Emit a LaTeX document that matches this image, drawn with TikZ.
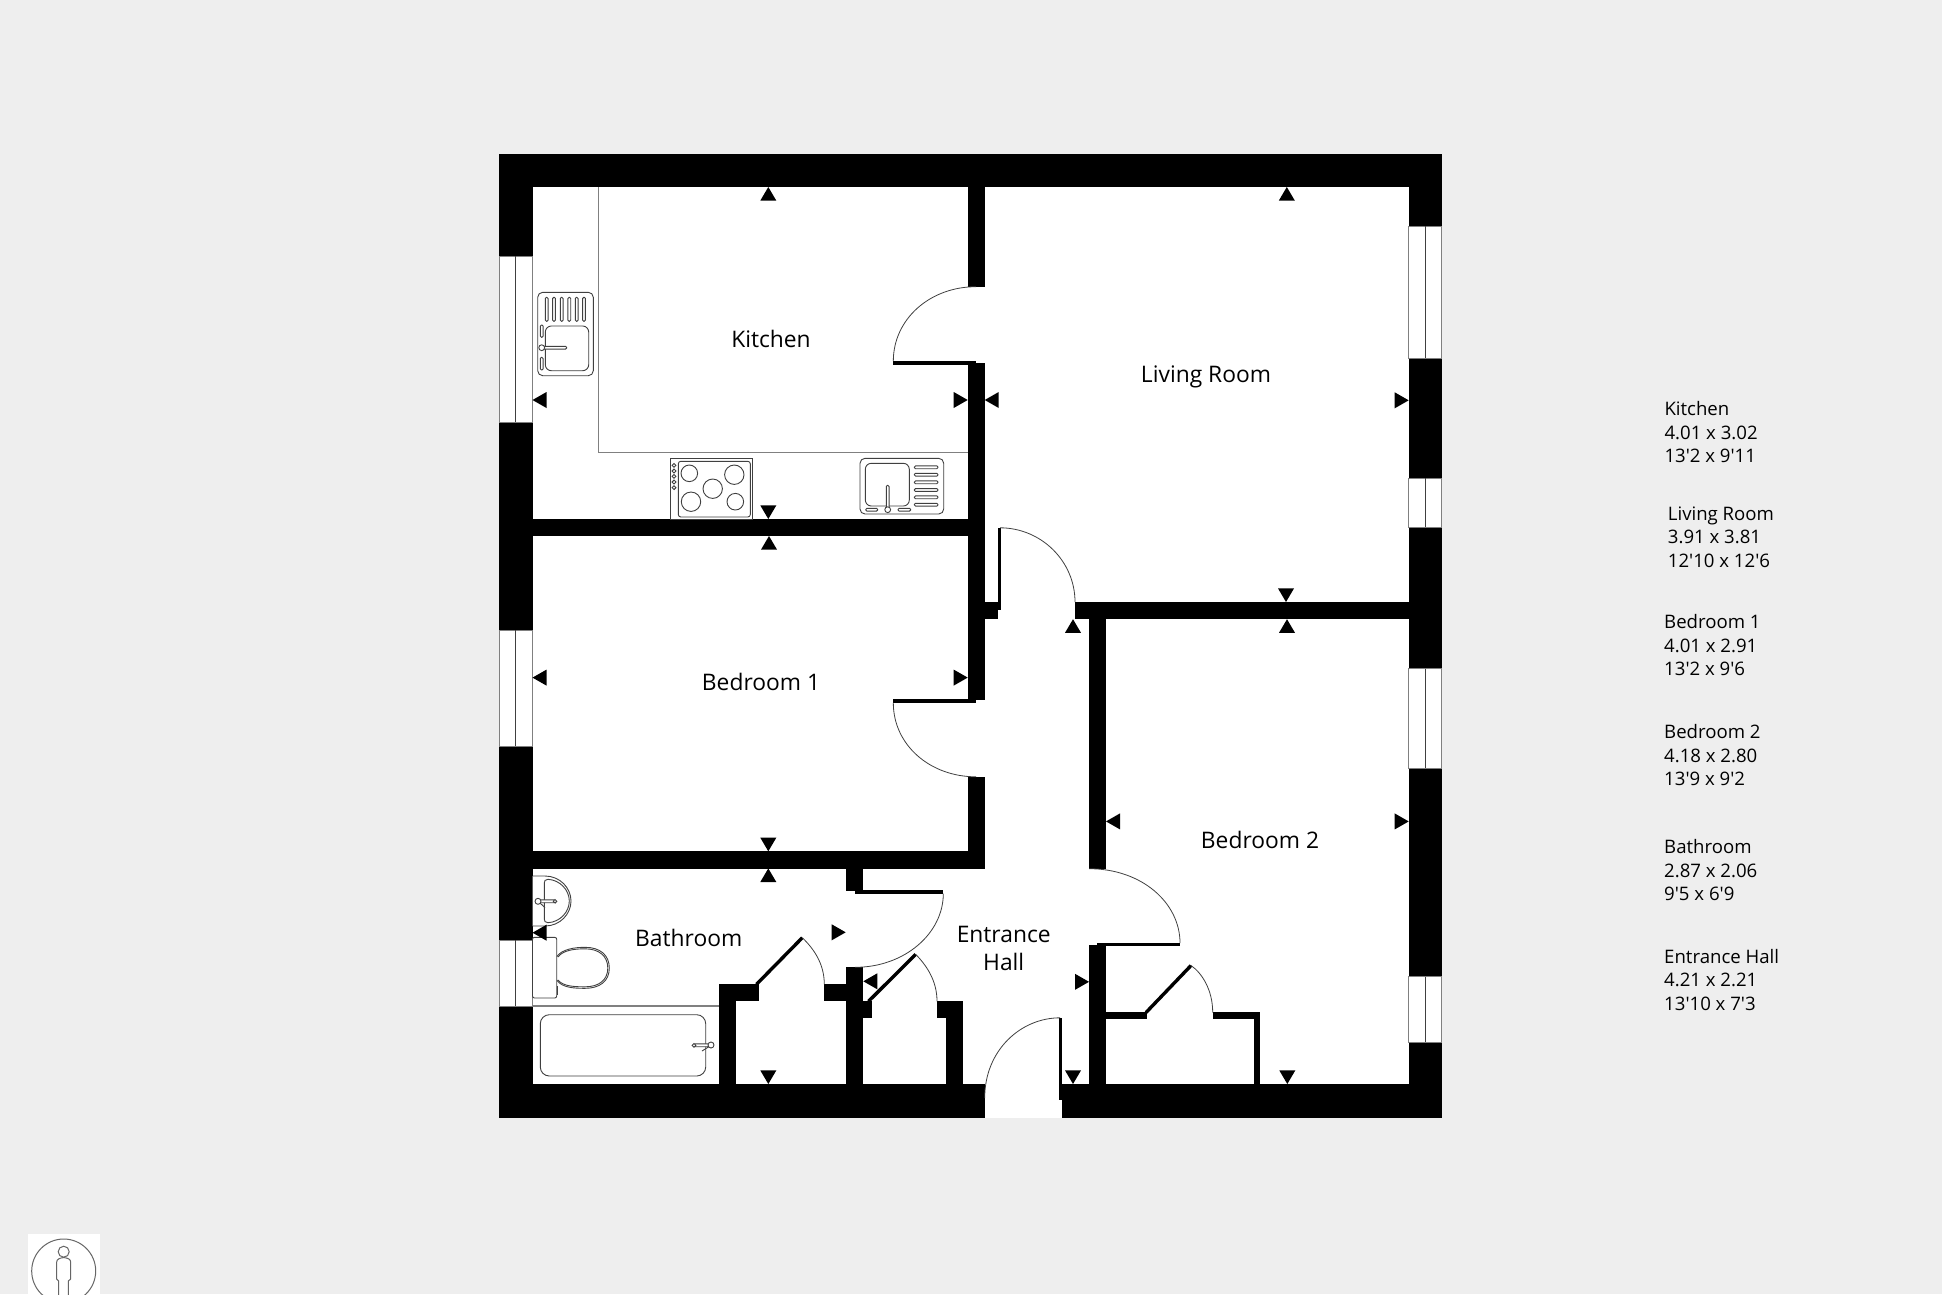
\documentclass[tikz,border=0pt]{standalone}
\usepackage{fontspec}
\newfontfamily\planfont{Open Sans}
\definecolor{pagebg}{HTML}{EEEEEE}
\definecolor{edge}{HTML}{808080}
\definecolor{fixture}{HTML}{404040}
\tikzset{
  wallfill/.style={fill=black},
  winpane/.style={fill=white,draw=edge,line width=1pt},
  winbar/.style={draw=fixture,line width=0.9pt},
  swing/.style={draw=fixture,line width=0.8pt},
  leaf/.style={draw=black,line width=3.4pt},
  fix/.style={draw=fixture,line width=0.9pt,fill=white},
  worktop/.style={draw=edge,line width=1.1pt},
  roomlabel/.style={font=\planfont\fontsize{22.8}{22.8}\selectfont,inner sep=0pt,text=black},
  dimlabel/.style={font=\planfont\fontsize{18.6}{18.6}\selectfont,inner sep=0pt,anchor=base west,text=black},
}
\newcommand\tup[2]{\fill (#1,#2) -- ++(-8,13.6) -- ++(16,0) -- cycle;}
\newcommand\tdn[2]{\fill (#1,#2) -- ++(-8,-13.6) -- ++(16,0) -- cycle;}
\newcommand\tlf[2]{\fill (#1,#2) -- ++(14,-8) -- ++(0,16) -- cycle;}
\newcommand\trt[2]{\fill (#1,#2) -- ++(-14,-8) -- ++(0,16) -- cycle;}
\newcommand\wall[4]{\fill[wallfill] (#1,#2) rectangle (#3,#4);}
\newcommand\leftwin[2]{\draw[winpane] (499.5,#1) rectangle (532.5,#2); \draw[winbar] (515.8,#1) -- (515.8,#2);}
\newcommand\rightwin[2]{\draw[winpane] (1408.9,#1) rectangle (1441.8,#2); \draw[winbar] (1425.3,#1) -- (1425.3,#2);}
\newcommand\slotv[3]{\draw[fix,rounded corners=1.2pt] (#1-1.4,#2) rectangle (#1+1.4,#3);}
\newcommand\sloth[3]{\draw[fix,rounded corners=1.2pt] (#1,#3-1.4) rectangle (#2,#3+1.4);}
\newcommand\dims[6]{%
  \node[dimlabel] (#1a) at (#2,#3) {#4};
  \node[dimlabel] (#1b) at (#2,#3+23.4) {#5};
  \node[dimlabel] (#1c) at (#2,#3+46.8) {#6};}
\begin{document}
\begin{tikzpicture}[x=1pt,y=-1pt]
\useasboundingbox (0,0) rectangle (1942,1294);
\fill[pagebg] (0,0) rectangle (1942,1294);
\begin{scope}
\clip (0,0) rectangle (1942,1294);
% person icon
\fill[white] (27.7,1234.3) rectangle (100,1300);
\draw[draw=black!60,line width=1pt] (63.7,1271) circle (32);
\draw[draw=black!60,line width=1pt] (63.7,1251.7) circle (5.5);
\draw[draw=black!60,line width=1pt] (58.7,1300) -- (58.7,1281) -- (56.7,1279) -- (56.7,1262) .. controls (56.7,1259) and (60,1258) .. (63.7,1257.5) .. controls (67.4,1258) and (70.7,1259) .. (70.7,1262) -- (70.7,1279) -- (68.3,1281) -- (68.3,1300);
\end{scope}
% shell
\fill[wallfill] (499,153.5) rectangle (1442,1117.5);
\fill[white] (532.5,187) rectangle (1408.7,1084);
% entrance gap
\fill[white] (984.7,1084) rectangle (1061.5,1117.5);
\wall{1059}{1084}{1062}{1100}
% windows
\leftwin{256.3}{422}
\leftwin{630}{746}
\leftwin{940.3}{1006}
\rightwin{226}{358.3}
\rightwin{478}{527.3}
\rightwin{668.6}{768.3}
\rightwin{976.5}{1042.3}
% interior walls
\wall{967.7}{187}{984.7}{286.7}
\wall{967.7}{363.3}{984.7}{700}
\wall{967.7}{776.8}{984.7}{868.5}
\wall{532.5}{519}{967.7}{536}
\wall{532.5}{851.3}{984.7}{868.5}
\wall{984.7}{602}{998.3}{619.2}
\wall{1075}{602}{1408.7}{619.2}
\wall{1089}{602}{1106}{868.7}
\wall{1089}{945}{1106}{1084}
% bed 2 cupboard
\wall{1106}{1011.6}{1147.3}{1018.6}
\wall{1212.7}{1011.6}{1260}{1018.6}
\wall{1254.3}{1011.6}{1260}{1084}
% bathroom and hall cupboards
\wall{846.3}{868.3}{863.3}{890.7}
\wall{846.3}{967.3}{863.3}{1084}
\wall{824.3}{984.3}{846.3}{1001.3}
\wall{863.3}{1001.3}{871.7}{1017.7}
\wall{936.7}{1001.3}{962.7}{1017.7}
\wall{945.7}{1001.3}{962.7}{1084}
\wall{719.3}{984.3}{736.3}{1084}
\wall{719.3}{984.3}{758.7}{1001.3}
% door leaves
\fill[black] (893.3,361.2) rectangle (976,364.8);
\fill[black] (893.3,699.4) rectangle (976,702.8);
\fill[black] (998.3,527.8) rectangle (1001.4,610);
\fill[black] (855,890) rectangle (943.3,893.7);
\fill[black] (1097.3,943) rectangle (1180,946.3);
\fill[black] (1059,1017.8) rectangle (1062,1100);
\draw[leaf] (756.5,984.3) -- (802.3,937.7);
\draw[leaf] (868.5,1001.3) -- (915.7,954.3);
\draw[leaf] (1146,1012.5) -- (1191,965.5);
% door swings
\draw[swing] (893.3,361.2) .. controls (893.3,319) and (930,286.7) .. (976,286.7);
\draw[swing] (893.3,702.8) .. controls (893.3,745) and (930,776.8) .. (976,776.8);
\draw[swing] (1000,527.8) .. controls (1041,527.8) and (1075,561) .. (1075,602);
\draw[swing] (1089,868.7) .. controls (1142,868.7) and (1180,903) .. (1180,943);
\draw[swing] (943.3,893.7) .. controls (943.3,933) and (905,967.3) .. (855,967.3);
\draw[swing] (1060,1017.8) .. controls (1021,1017.8) and (984.7,1050) .. (984.7,1098);
\draw[swing] (802.3,937.7) .. controls (813,948) and (824.3,963) .. (824.3,984.3);
\draw[swing] (915.7,954.3) .. controls (926,965) and (937,980) .. (937,1001.3);
\draw[swing] (1191,965.5) .. controls (1202,973) and (1212.7,990) .. (1212.7,1012.5);
% kitchen worktop
\draw[worktop] (598.3,187) -- (598.3,452.7) -- (967.7,452.7);
% left sink
\draw[fix,rounded corners=5pt] (537.7,292.3) rectangle (593.3,375.7);
\foreach \sx in {546.7,554,561.7,569.3,576.7,584} {\slotv{\sx}{297.3}{321.3}}
\draw[fix,rounded corners=6pt] (545.3,326) rectangle (588.7,370.7);
\slotv{541.7}{325}{337.3}
\slotv{541.7}{357.3}{370}
\sloth{541.7}{566.7}{347.7}
\draw[fix] (541.7,347.7) circle (2.9);
% hob
\draw[fix] (670.3,458.3) rectangle (752.7,519);
\draw[fix,rounded corners=2.5pt] (678.3,461.3) rectangle (750.3,517);
\draw[fix] (689.3,473.3) circle (8.3);
\draw[fix] (734.3,474.7) circle (9.7);
\draw[fix] (712.7,488.7) circle (9.7);
\draw[fix] (691,501.7) circle (9.7);
\draw[fix] (735.3,501.7) circle (8.3);
\foreach \ky in {465.3,471,476.3,482,487.7} {\draw[fix] (674,\ky) circle (1.9);}
% right sink
\draw[fix,rounded corners=5pt] (860,458.3) rectangle (943.7,514);
\draw[fix,rounded corners=6pt] (865.3,463.3) rectangle (909.3,506);
\foreach \dy in {467.3,474.7,482.3,490,497.3,504.7} {\sloth{914.3}{938}{\dy}}
\slotv{887.7}{485.3}{509.7}
\sloth{865.7}{877.7}{509.7}
\sloth{898}{910.7}{509.7}
\draw[fix] (887.7,509.7) circle (2.9);
% basin
\draw[fix] (532.5,876) -- (545,876) .. controls (560,876) and (571,888) .. (571,901) .. controls (571,914) and (560,926) .. (545,926) -- (532.5,926);
\draw[fix] (548,879.3) .. controls (560,880) and (569.3,890) .. (569.3,901) .. controls (569.3,912) and (560,922) .. (548,922.7) .. controls (545,922.7) and (544.3,921) .. (544.3,919) -- (544.3,883) .. controls (544.3,881) and (545,879.3) .. (548,879.3) -- cycle;
\sloth{538}{555}{901.3}
\draw[fix] (539,902) -- (545,907.7);
\draw[fix] (538,901.3) circle (3);
\draw[fix] (555,901.3) circle (1.8);
% toilet
\draw[fix] (556.7,956.7) .. controls (562,949) and (575,947.3) .. (585,947.3) .. controls (600,947.3) and (609.3,955) .. (609.3,968) .. controls (609.3,981) and (600,988.3) .. (585,988.3) .. controls (575,988.3) and (562,988) .. (556.7,980);
\draw[fix] (558,957) .. controls (563,950) and (575,948.8) .. (585,948.8) .. controls (599,948.8) and (607.8,956) .. (607.8,968) .. controls (607.8,980) and (599,986.8) .. (585,986.8) .. controls (575,986.8) and (563,986.5) .. (558,980);
\draw[fix,rounded corners=2pt] (532.5,937.3) rectangle (556.7,998);
\draw[draw=fixture,line width=0.8pt] (557.5,986) -- (557.5,995);
% bath
\draw[worktop] (532.5,1006) -- (719.3,1006);
\draw[fix,rounded corners=9pt] (540.3,1014.7) rectangle (705.7,1076);
\sloth{694}{709}{1045.3}
\draw[fix] (702,1051) -- (710,1046);
\draw[fix] (694,1045.3) circle (1.9);
\draw[fix] (711,1045) circle (3);
% measurement marks
\tup{768.3}{187}\tdn{768.3}{519}\tlf{532.5}{400}\trt{967.7}{400}
\tlf{984.7}{400}\tup{1286.8}{187}\trt{1408.7}{400.3}\tdn{1286}{602}
\tup{769}{536}\tdn{768.3}{851.3}\tlf{532.5}{677.6}\trt{967.7}{677.6}
\tup{1287}{619.2}\tlf{1106}{821.4}\trt{1408.7}{821.4}\tdn{1287.3}{1084}
\tup{1073}{619.2}\trt{1089}{981.8}\tdn{1073}{1084}\tlf{863.3}{981.3}
\tup{768.3}{868.4}\tlf{532.5}{932.7}\trt{845.7}{932.3}\tdn{768.3}{1084}
% room labels
\node[roomlabel] (kitchen) at (771,339) {Kitchen};
\node[roomlabel] (living) at (1206,376.5) {Living Room};
\node[roomlabel] (bedone) at (761,682) {Bedroom 1};
\node[roomlabel] (bedtwo) at (1260,840) {Bedroom 2};
\node[roomlabel] (bath) at (688.7,938.3) {Bathroom};
\node[roomlabel] (hallA) at (1003.7,934) {Entrance};
\node[roomlabel] (hallB) at (1003.7,961.5) {Hall};
% dimensions
\dims{dk}{1664.3}{415.8}{Kitchen}{4.01 x 3.02}{13'2 x 9'11}
\dims{dl}{1667.7}{520.3}{Living Room}{3.91 x 3.81}{12'10 x 12'6}
\dims{do}{1664}{628.6}{Bedroom 1}{4.01 x 2.91}{13'2 x 9'6}
\dims{dt}{1664}{738.6}{Bedroom 2}{4.18 x 2.80}{13'9 x 9'2}
\dims{db}{1664}{853.8}{Bathroom}{2.87 x 2.06}{9'5 x 6'9}
\dims{de}{1664}{963.3}{Entrance Hall}{4.21 x 2.21}{13'10 x 7'3}
\end{tikzpicture}
\end{document}
